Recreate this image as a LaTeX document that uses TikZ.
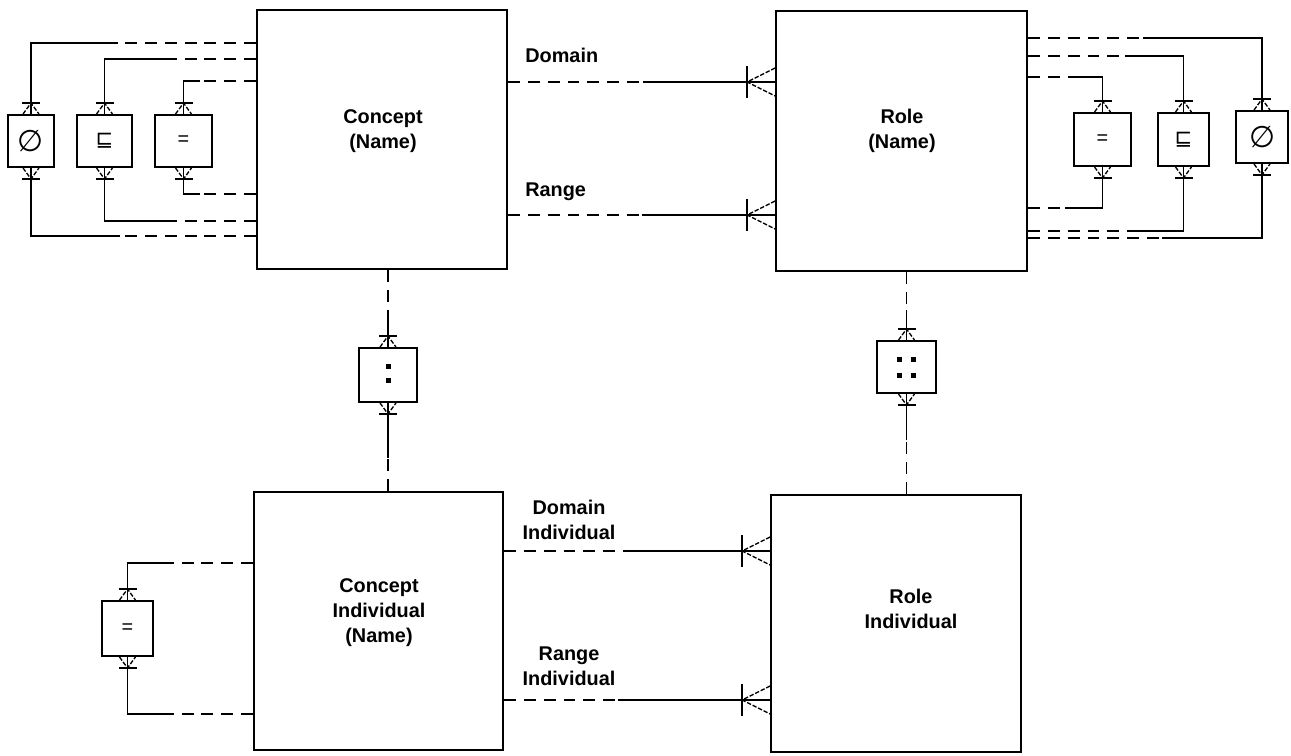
\documentclass[tikz,border=0pt]{standalone}
\usepackage{fontspec}
\setmainfont{Liberation Sans}
\newfontfamily\symfont{DejaVu Sans}

\tikzset{
	bigbox/.style = {draw, line width=1.1pt, inner sep=0pt},
	opbox/.style = {draw, line width=1.1pt, inner sep=0pt, minimum height=1.04cm, font=\fontsize{11.3}{12}\selectfont},
	lbl/.style = {font=\bfseries\fontsize{11.3}{14.2}\selectfont, align=center, inner sep=0pt},
	link/.style = {line width=1.1pt},
	optlink/.style = {line width=1.1pt, dash pattern=on 6.8pt off 4.5pt},
	crowline/.style = {line width=0.75pt, dash pattern=on 2.5pt off 1pt},
	crowup/.pic = {
		\draw [crowline] (-8,0) -- (0,-11) -- (8,0);
		\draw [link] (-9,-11) -- (9,-11);
	},
	crowleft/.pic = {
		\draw [crowline] (0,-14) -- (-28,0) -- (0,14);
		\draw [link] (-28,-16) -- (-28,16);
	},
}

\begin{document}
\begin{tikzpicture}[x=0.02cm, y=-0.02cm]
	\useasboundingbox (0,0) rectangle (1291,755);
	% entities
	\node [bigbox, minimum width=5cm, minimum height=5.18cm] (cpt) at (382,139.5) {};
	\node [bigbox, minimum width=5.02cm, minimum height=5.2cm] (role) at (901.5,141) {};
	\node [bigbox, minimum width=4.98cm, minimum height=5.16cm] (cind) at (378.5,621) {};
	\node [bigbox, minimum width=5cm, minimum height=5.14cm] (rind) at (896,623.5) {};
	\node [lbl] (cptlbl) at (383,131) {Concept\\(Name)};
	\node [lbl] (rolelbl) at (902,131) {Role\\(Name)};
	\node [lbl] (cindlbl) at (379,613) {Concept\\Individual\\(Name)};
	\node [lbl] (rindlbl) at (911,609) {Role\\Individual};
	% operator boxes
	\node [opbox, minimum width=0.92cm] (emptyC) at (31,141) {\symfont\fontsize{17}{17}\selectfont ∅};
	\node [opbox, minimum width=1.1cm] (subC) at (104.5,141) {\symfont\fontsize{12}{12}\selectfont ⊑};
	\node [opbox, minimum width=1.14cm] (eqC) at (183.5,141) {=};
	\node [opbox, minimum width=1.14cm, minimum height=1.06cm] (eqR) at (1102.5,139.5) {=};
	\node [opbox, minimum width=1.02cm, minimum height=1.06cm] (subR) at (1183.5,139.5) {\symfont\fontsize{12}{12}\selectfont ⊑};
	\node [opbox, minimum width=1.04cm] (emptyR) at (1262,137) {\symfont\fontsize{17}{17}\selectfont ∅};
	\node [opbox, minimum width=1.02cm, minimum height=1.1cm] (eqCI) at (127.5,628.5) {=};
	\node [opbox, minimum width=1.16cm, minimum height=1.08cm] (inC) at (388,375) {};
	\node [opbox, minimum width=1.18cm] (inR) at (906.5,367) {};
	\foreach \dy in {-9,5}
		\fill ([shift={(0,\dy)}]inC.center) +(-2.5,-2.5) rectangle +(2.5,2.5);
	\foreach \dx in {-7.5,6.5}
		\foreach \dy in {-8,8}
			\fill ([shift={(\dx,\dy)}]inR.center) +(-2.5,-2.5) rectangle +(2.5,2.5);
	% axioms on concepts
	\foreach \op/\y/\x in {emptyC/43/117, subC/59/177, eqC/81/200} {
		\coordinate (brk) at (\x,\y);
		\draw [link] (\op.north) |- (brk);
		\draw [optlink] (brk -| cpt.west) -- (brk);
		\pic at (\op.north) {crowup};
	}
	\foreach \op/\y/\x in {emptyC/236/120, subC/221/173, eqC/194/200} {
		\coordinate (brk) at (\x,\y);
		\draw [link] (\op.south) |- (brk);
		\draw [optlink] (brk -| cpt.west) -- (brk);
		\pic [yscale=-1] at (\op.south) {crowup};
	}
	% axioms on roles
	\foreach \op/\y/\x in {eqR/77/1068, subR/56/1125, emptyR/38/1143} {
		\coordinate (brk) at (\x,\y);
		\draw [link] (\op.north) |- (brk);
		\draw [optlink] (brk -| role.east) -- (brk);
		\pic at (\op.north) {crowup};
	}
	\foreach \op/\y/\x in {eqR/208/1065, subR/231/1132, emptyR/238/1162} {
		\coordinate (brk) at (\x,\y);
		\draw [link] (\op.south) |- (brk);
		\draw [optlink] (brk -| role.east) -- (brk);
		\pic [yscale=-1] at (\op.south) {crowup};
	}
	% individual equality
	\coordinate (eqa) at (167,563);
	\coordinate (eqb) at (163,714);
	\draw [link] (eqCI.north) |- (eqa);
	\draw [optlink] (eqa -| cind.west) -- (eqa);
	\draw [link] (eqCI.south) |- (eqb);
	\draw [optlink] (eqb -| cind.west) -- (eqb);
	\pic at (eqCI.north) {crowup};
	\pic [yscale=-1] at (eqCI.south) {crowup};
	% instance of
	\coordinate (inCa) at (388,310);
	\coordinate (inCb) at (388,458);
	\draw [optlink] (inCa |- cpt.south) -- (inCa);
	\draw [link] (inCa) -- (inC.north);
	\draw [link] (inC.south) -- (inCb);
	\draw [optlink] (inCb |- cind.north) -- (inCb);
	\pic at (inC.north) {crowup};
	\pic [yscale=-1] at (inC.south) {crowup};
	\coordinate (inRa) at (906.5,310);
	\coordinate (inRb) at (906.5,440);
	\draw [optlink] (inRa |- role.south) -- (inRa);
	\draw [link] (inRa) -- (inR.north);
	\draw [link] (inR.south) -- (inRb);
	\draw [optlink] (inRb |- rind.north) -- (inRb);
	\pic at (inR.north) {crowup};
	\pic [yscale=-1] at (inR.south) {crowup};
	% domain and range
	\foreach \a/\b/\brk/\x/\y in {cpt/role/domb/643/82, cpt/role/ranb/642/215, cind/rind/dib/623/551, cind/rind/rib/618/700} {
		\coordinate (\brk) at (\x,\y);
		\draw [optlink] (\brk -| \a.east) -- (\brk);
		\draw [link] (\brk) -- (\brk -| \b.west);
		\pic at (\brk -| \b.west) {crowleft};
	}
	\node [lbl, anchor=base west] (domlbl) at (525,62) {Domain};
	\node [lbl, anchor=base west] (ranlbl) at (525,196) {Range};
	\node [lbl] (dilbl) at (569,520) {Domain\\Individual};
	\node [lbl] (rilbl) at (569,666) {Range\\Individual};
\end{tikzpicture}
\end{document}
